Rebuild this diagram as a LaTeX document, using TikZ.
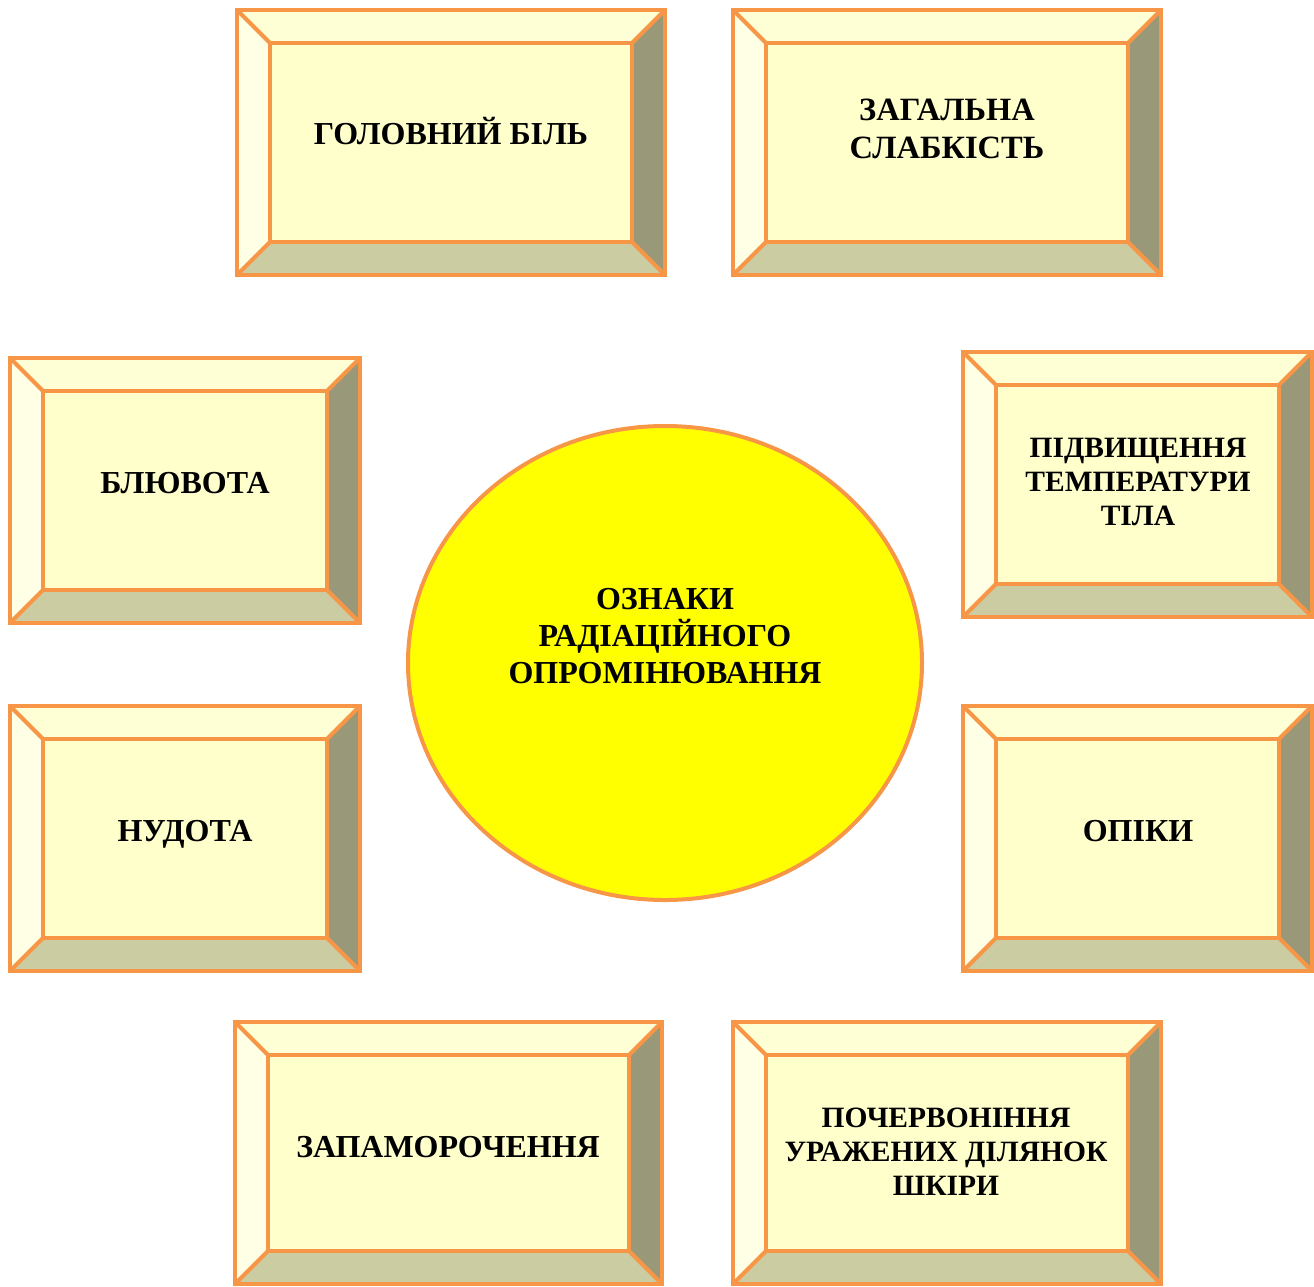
\documentclass[tikz,border=0pt]{standalone}
\usepackage{fontspec}
\setmainfont{Liberation Serif}
\usetikzlibrary{shapes.geometric}
\definecolor{orng}{HTML}{F79646}
\definecolor{inn}{HTML}{FFFFCC}
\definecolor{topb}{HTML}{FFFFD6}
\definecolor{leftb}{HTML}{FFFFE6}
\definecolor{rightb}{HTML}{99997A}
\definecolor{botb}{HTML}{CCCCA3}
\definecolor{circ}{HTML}{FFFF00}
\tikzset{
  edge/.style={draw=orng,line width=4pt,line join=miter},
  lbl/.style={font=\bfseries\fontsize{32}{34}\selectfont,align=center,inner sep=0pt,text=black},
  oneline/.style={text height=21pt,text depth=0pt},
  small/.style={font=\bfseries\fontsize{29.5}{34}\selectfont},
}
% #1 name, #2 x1, #3 y1, #4 x2, #5 y2
\newcommand\bevelbox[5]{%
  \fill[topb] (#2,#3) -- (#4,#3) -- (#4-33,#3+33) -- (#2+33,#3+33) -- cycle;
  \fill[leftb] (#2,#3) -- (#2+33,#3+33) -- (#2+33,#5-33) -- (#2,#5) -- cycle;
  \fill[rightb] (#4,#3) -- (#4,#5) -- (#4-33,#5-33) -- (#4-33,#3+33) -- cycle;
  \fill[botb] (#2,#5) -- (#4,#5) -- (#4-33,#5-33) -- (#2+33,#5-33) -- cycle;
  \fill[inn] (#2+33,#3+33) rectangle (#4-33,#5-33);
  \draw[edge] (#2+33,#3+33) rectangle (#4-33,#5-33);
  \draw[edge] (#2,#3) -- (#2+33,#3+33) (#4,#3) -- (#4-33,#3+33)
              (#2,#5) -- (#2+33,#5-33) (#4,#5) -- (#4-33,#5-33);
  \node[edge,rectangle,inner sep=0pt,outer sep=0pt,minimum width=#4-#2,minimum height=#5-#3] (#1) at ({(#2+#4)/2},{(#3+#5)/2}) {};
}
\begin{document}
\begin{tikzpicture}[x=1pt,y=-1pt]
\useasboundingbox (0,0) rectangle (1314,1286);
\bevelbox{b1}{237}{10}{665}{275}
\bevelbox{b2}{733}{10}{1161}{275}
\bevelbox{b3}{10}{358}{360}{623}
\bevelbox{b4}{963}{352}{1312}{617}
\bevelbox{b5}{10}{706}{360}{971}
\bevelbox{b6}{963}{706}{1312}{971}
\bevelbox{b7}{235}{1022}{662}{1284}
\bevelbox{b8}{733}{1022}{1161}{1284}
\node[ellipse,draw=orng,line width=4pt,fill=circ,minimum width=514,minimum height=474,inner sep=0pt] (c) at (665,663) {};
\node[lbl,oneline] (t1) at (451,134) {ГОЛОВНИЙ БІЛЬ};
\node[lbl,font=\bfseries\fontsize{32.5}{38}\selectfont] (t2) at (947,129) {ЗАГАЛЬНА\\СЛАБКІСТЬ};
\node[lbl,oneline] (t3) at (185,483) {БЛЮВОТА};
\node[lbl,small] (t4) at (1138,482) {ПІДВИЩЕННЯ\\ТЕМПЕРАТУРИ\\ТІЛА};
\node[lbl,oneline] (t5) at (185,831) {НУДОТА};
\node[lbl,oneline] (t6) at (1138,831) {ОПІКИ};
\node[lbl,oneline] (t7) at (448,1147) {ЗАПАМОРОЧЕННЯ};
\node[lbl,small] (t8) at (946,1152) {ПОЧЕРВОНІННЯ\\УРАЖЕНИХ ДІЛЯНОК\\ШКІРИ};
\node[lbl,font=\bfseries\fontsize{32}{37}\selectfont] (tc) at (665,636) {ОЗНАКИ\\РАДІАЦІЙНОГО\\ОПРОМІНЮВАННЯ};
\end{tikzpicture}
\end{document}
